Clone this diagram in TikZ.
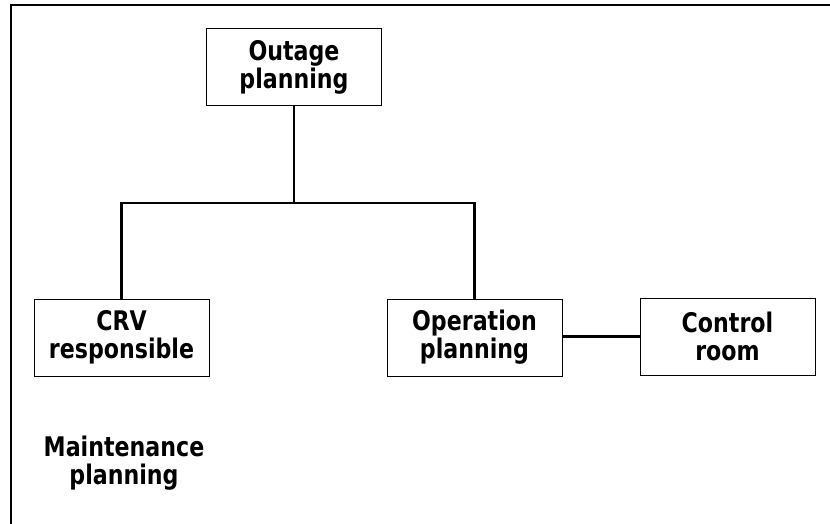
\documentclass[tikz,border=0pt]{standalone}
\usepackage{fontspec}
\setmainfont{DejaVu Sans}[FakeStretch=0.82]
\begin{document}
\begin{tikzpicture}[x=1pt,y=-1pt,
  labeltext/.style={align=center, font=\bfseries\fontsize{27}{28}\selectfont},
  unitbox/.style={labeltext, draw, line width=1pt, minimum width=175pt,
    minimum height=77pt, inner sep=0pt},
  link/.style={line width=2.6pt}]
  \useasboundingbox (0,0) rectangle (830,524);
  % frame: top and left edges
  \draw[line width=2.6pt] (830,5) -- (11,5) -- (11,524);

  \node[unitbox] (outage) at (294,67.5) {Outage\\planning};
  \node[unitbox] (crv) at (121.5,337.5) {CRV\\responsible};
  \node[unitbox] (oper) at (474.5,337.5) {Operation\\planning};
  \node[unitbox] (ctrl) at (727.5,336.5) {Control\\room};
  \node[labeltext] (maint) at (124,463) {Maintenance\\planning};

  \coordinate (fork) at (294,203);
  \draw[link] (outage.south) -- (fork);
  \draw[link] (crv.north) |- (fork) -| (oper.north);
  \draw[link] ([yshift=1pt]oper.east) -- (ctrl.west);
\end{tikzpicture}
\end{document}
